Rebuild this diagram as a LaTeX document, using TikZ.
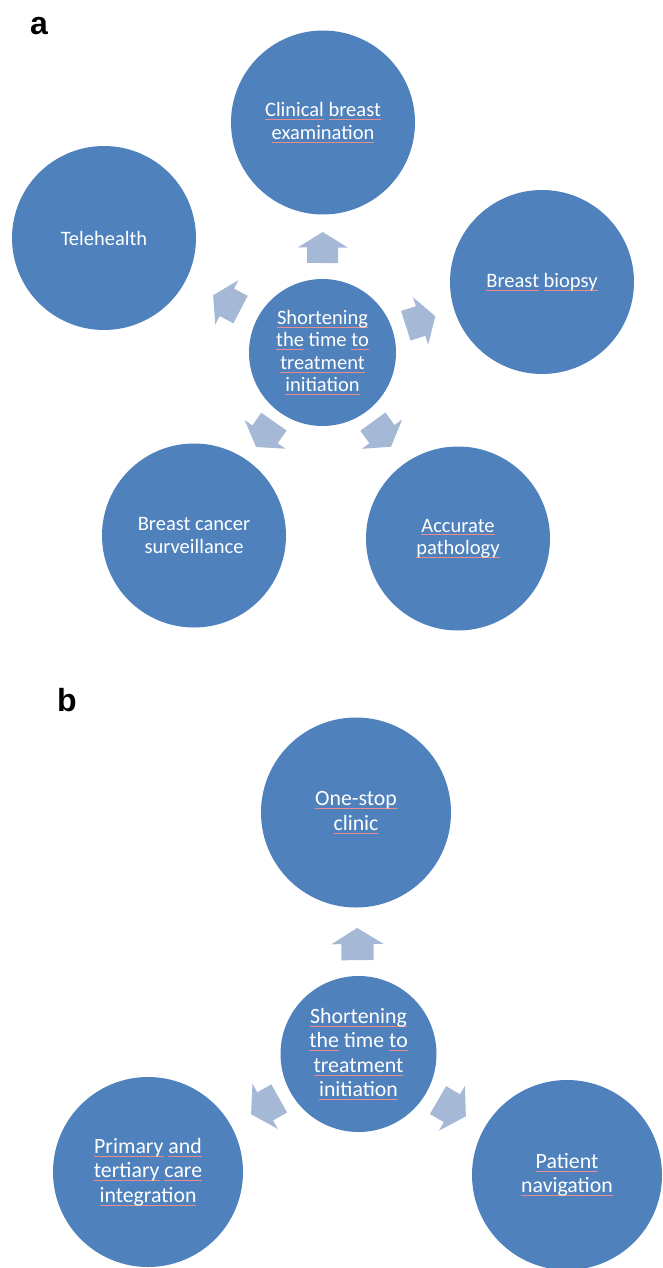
\documentclass[tikz,border=0pt]{standalone}
\usepackage{fontspec}
\setmainfont{Carlito}
\newfontfamily\labelfont{Liberation Sans}
\usetikzlibrary{calc}
\definecolor{circblue}{RGB}{79,129,189}
\definecolor{arrowblue}{RGB}{165,185,215}
\definecolor{squig}{RGB}{232,140,140}
\newcommand\sq[1]{\setbox0\hbox{#1}\rlap{\color{squig}\rule[-3pt]{\wd0}{0.7pt}}\box0\relax}
\tikzset{
  bubbleA/.style={circle, fill=circblue, draw=none, text=white, minimum size=184pt, inner sep=0pt, align=center, font=\fontsize{20.5}{22.5}\selectfont},
  hubA/.style={bubbleA, minimum size=147pt},
  bubbleB/.style={circle, fill=circblue, draw=none, text=white, minimum size=190pt, inner sep=0pt, align=center, font=\fontsize{21.8}{24.5}\selectfont},
  hubB/.style={bubbleB, minimum size=156pt},
  panellabel/.style={font=\labelfont\bfseries\fontsize{32}{32}\selectfont, anchor=base, inner sep=0pt},
  radarrow/.pic={\fill[arrowblue] (-15.5,-15.5) -- (0,-15.5) -- (0,-25) -- (15.5,0) -- (0,25) -- (0,15.5) -- (-15.5,15.5) -- cycle;}
}
\newcommand\blockarrow[4]{%
  \path let \p1=($(#2)-(#1)$), \n1={atan2(\y1,\x1)} in ($(#1)!#3!(#2)$) pic[rotate=\n1, scale=#4] {radarrow};}
\begin{document}
\begin{tikzpicture}[x=1pt,y=1pt]
\useasboundingbox (0,0) rectangle (663,-1268);
\clip (0,0) rectangle (663,-1268);
% panel a
\node[panellabel] (la) at (39,-35) {a};
\node[hubA] (ca) at (322.5,-352.5) {\sq{Shortening}\\\sq{the} time \sq{to}\\\sq{treatment}\\\sq{initiation}};
\node[bubbleA] (clin) at (323,-122.5) {\sq{Clinical} \sq{breast}\\\sq{examination}};
\node[bubbleA] (tele) at (104,-238) {Telehealth};
\node[bubbleA] (biop) at (542,-282) {\sq{Breast} \sq{biopsy}};
\node[bubbleA] (surv) at (194,-535.5) {Breast cancer\\surveillance};
\node[bubbleA] (path) at (458,-538.5) {\sq{Accurate}\\\sq{pathology}};
\blockarrow{ca}{clin}{105pt}{1}
\blockarrow{ca}{tele}{108pt}{1}
\blockarrow{ca}{biop}{103pt}{1}
\blockarrow{ca}{surv}{100pt}{1}
\blockarrow{ca}{path}{101pt}{1}
% panel b
\node[panellabel] (lb) at (67,-711) {b};
\node[hubB] (cb) at (358.5,-1054) {\sq{Shortening}\\\sq{the} time \sq{to}\\\sq{treatment}\\\sq{initiation}};
\node[bubbleB] (one) at (356,-812.5) {\sq{One-stop}\\\sq{clinic}};
\node[bubbleB] (prim) at (148,-1172) {\sq{Primary} \sq{and}\\\sq{tertiary} \sq{care}\\\sq{integration}};
\node[bubbleB] (nav) at (567,-1175) {\sq{Patient}\\\sq{navigation}};
\blockarrow{cb}{one}{110pt}{1.04}
\blockarrow{cb}{prim}{107pt}{1.04}
\blockarrow{cb}{nav}{108pt}{1.04}
\end{tikzpicture}
\end{document}
